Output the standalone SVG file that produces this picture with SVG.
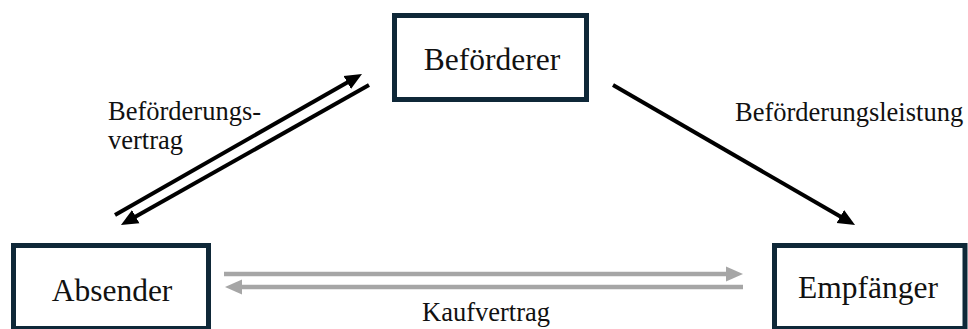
<svg xmlns="http://www.w3.org/2000/svg" width="968" height="329" viewBox="0 0 968 329">
  <style>
    .box { fill: #ffffff; stroke: #0f2838; stroke-width: 5; }
    .node { font-size: 31.5px; fill: #111111; text-anchor: middle; }
    .lbl { font-size: 26.5px; fill: #111111; }
    .blk { stroke: #000000; stroke-width: 4; fill: none; }
    .gry { stroke: #a6a6a6; stroke-width: 4.5; fill: none; }
  </style>
  <defs>
    <marker id="ahB" markerUnits="userSpaceOnUse" markerWidth="18" markerHeight="16" viewBox="0 0 18 16" refX="1" refY="8" orient="auto">
      <path d="M0,0.5 L17,8 L0,15.5 z" fill="#000000"/>
    </marker>
    <marker id="ahG" markerUnits="userSpaceOnUse" markerWidth="18" markerHeight="16" viewBox="0 0 18 16" refX="1" refY="8" orient="auto">
      <path d="M0,0.5 L17,8 L0,15.5 z" fill="#a6a6a6"/>
    </marker>
  </defs>
  <rect width="968" height="329" fill="#ffffff"/>

  <g id="connectors" font-family="Liberation Serif, DejaVu Serif, serif">
    <line class="blk" x1="115" y1="215" x2="348.1" y2="81.9" marker-end="url(#ahB)"/>
    <line class="blk" x1="369" y1="85" x2="134.9" y2="217.1" marker-end="url(#ahB)"/>
    <line class="blk" x1="613" y1="85" x2="841.2" y2="217" marker-end="url(#ahB)"/>
    <line class="gry" x1="224" y1="274" x2="727" y2="274" marker-end="url(#ahG)"/>
    <line class="gry" x1="743" y1="287" x2="241" y2="287" marker-end="url(#ahG)"/>
    <text class="lbl" x="108" y="120">Beförderungs-</text>
    <text class="lbl" x="108" y="149">vertrag</text>
    <text class="lbl" x="735" y="121">Beförderungsleistung</text>
    <text class="lbl" x="422" y="321">Kaufvertrag</text>
  </g>

  <g id="befoerderer" font-family="Liberation Serif, DejaVu Serif, serif">
    <rect class="box" x="394.5" y="15.5" width="192" height="84"/>
    <text class="node" x="492" y="70">Beförderer</text>
  </g>
  <g id="absender" font-family="Liberation Serif, DejaVu Serif, serif">
    <rect class="box" x="13.5" y="245.5" width="195" height="83"/>
    <text class="node" x="112" y="301">Absender</text>
  </g>
  <g id="empfaenger" font-family="Liberation Serif, DejaVu Serif, serif">
    <rect class="box" x="774.5" y="245.5" width="190.5" height="83"/>
    <text class="node" x="868" y="298">Empfänger</text>
  </g>
</svg>
